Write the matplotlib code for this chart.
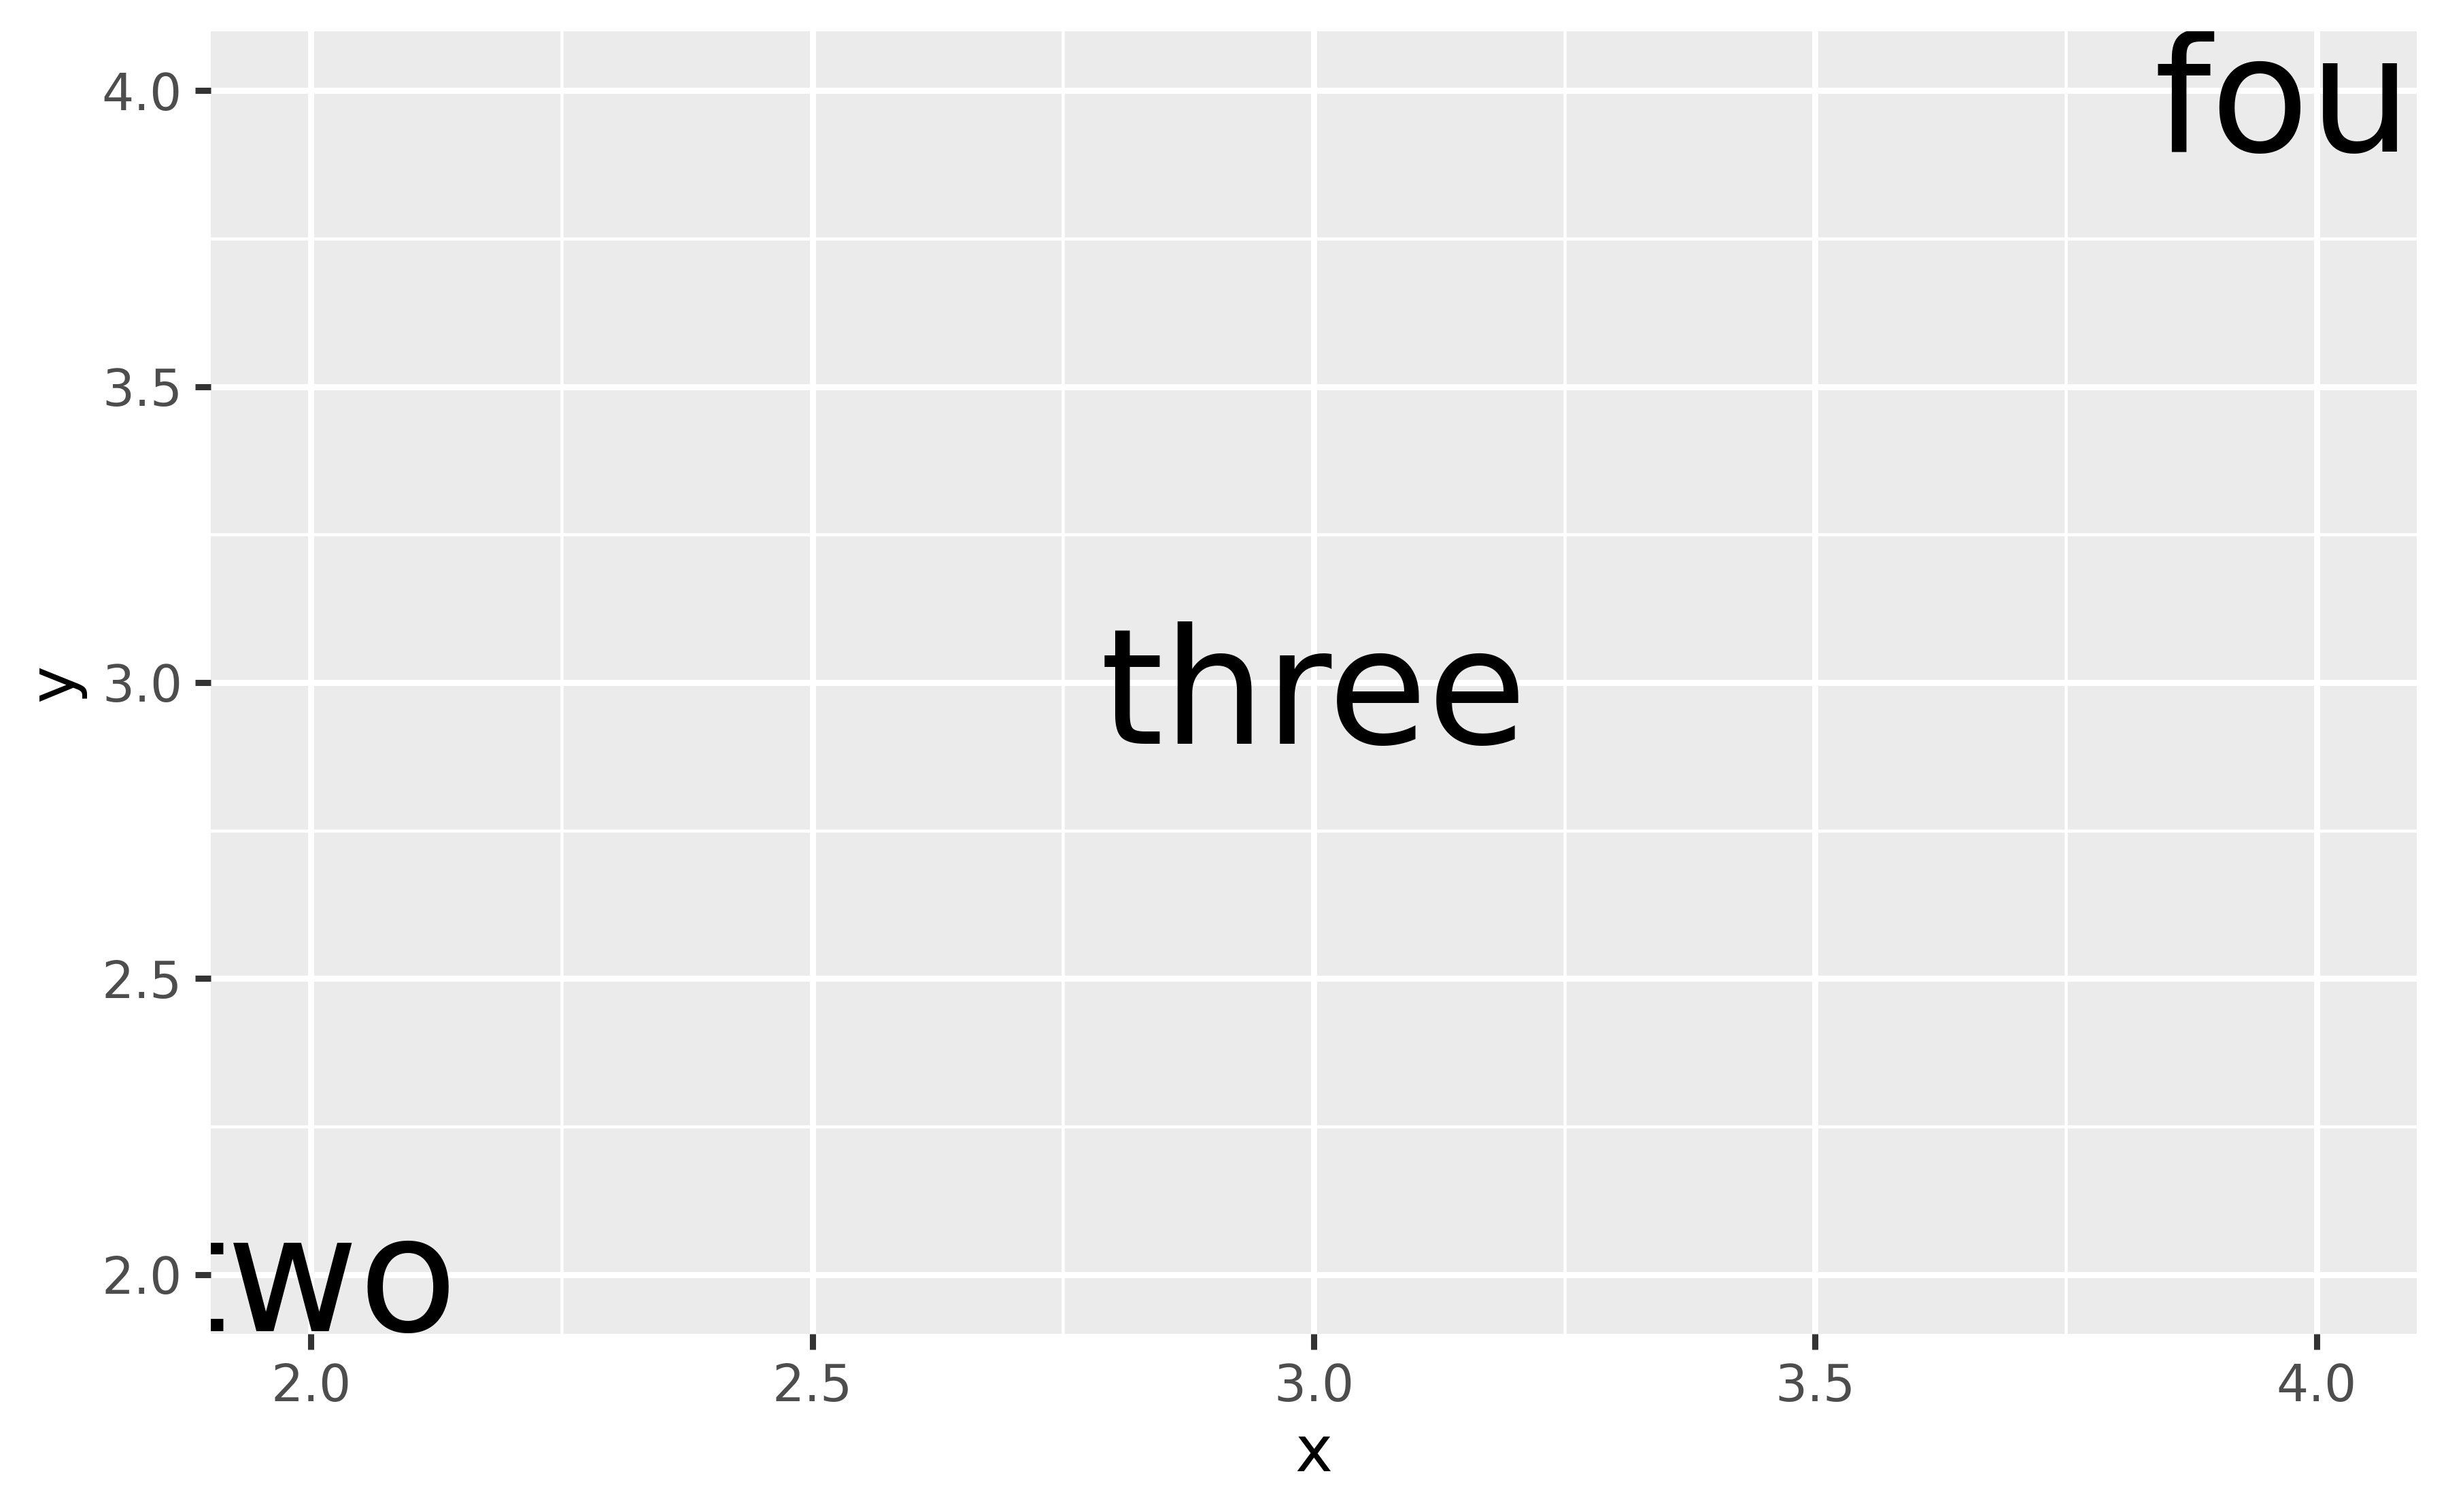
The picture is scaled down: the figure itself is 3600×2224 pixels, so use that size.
import matplotlib
matplotlib.use("Agg")
import matplotlib.pyplot as plt
import matplotlib.transforms as mtransforms
from matplotlib.textpath import TextPath
from matplotlib.font_manager import FontProperties
from matplotlib.ticker import FormatStrFormatter

# data
xs = [1, 2, 3, 4]
ys = [1, 2, 3, 4]
labels = ["one", "two", "three", "four"]
x_limits = (1.9, 4.1)
y_limits = (1.9, 4.1)
major_ticks = [2.0, 2.5, 3.0, 3.5, 4.0]
minor_ticks = [2.25, 2.75, 3.25, 3.75]

S = 2.03  # ggplot scale factor at this output size
LABEL_SIZE = 57
plt.rcParams["font.family"] = ["DejaVu Sans"]

fig = plt.figure(figsize=(12, 2224 / 300), dpi=300)
ax = fig.add_axes([310 / 3600, 1 - 1962 / 2224, (3554 - 310) / 3600, (1962 - 46) / 2224])
ax.set_facecolor("#EBEBEB")
for sp in ax.spines.values():
    sp.set_visible(False)

ax.set_xlim(*x_limits)
ax.set_ylim(*y_limits)
ax.set_xticks(major_ticks)
ax.set_yticks(major_ticks)
ax.set_xticks(minor_ticks, minor=True)
ax.set_yticks(minor_ticks, minor=True)
ax.xaxis.set_major_formatter(FormatStrFormatter("%.1f"))
ax.yaxis.set_major_formatter(FormatStrFormatter("%.1f"))

ax.grid(which="major", color="white", linewidth=1.07 * S)
ax.grid(which="minor", color="white", linewidth=0.535 * S)
ax.set_axisbelow(True)
ax.tick_params(which="major", length=2.75 * S, width=1.07 * S, color="#333333",
               labelcolor="#4D4D4D", labelsize=8.8 * S, pad=2.2 * S)
ax.tick_params(which="minor", length=0)

ax.set_xlabel("x", fontsize=11 * S, labelpad=2.75 * S - 1.8)
ax.set_ylabel("y", fontsize=11 * S, labelpad=2.75 * S)

# text labels, centred on their ink ascent like grid does
fp = FontProperties(family="DejaVu Sans")
for x, y, lab in zip(xs, ys, labels):
    asc = TextPath((0, 0), lab, size=LABEL_SIZE, prop=fp).get_extents().ymax
    tr = mtransforms.offset_copy(ax.transData, fig=fig, y=-asc / 2, units="points")
    ax.text(x, y, lab, transform=tr, ha="center", va="baseline",
            fontsize=LABEL_SIZE, color="black", clip_on=True)

fig.savefig("out.png", dpi=300)
